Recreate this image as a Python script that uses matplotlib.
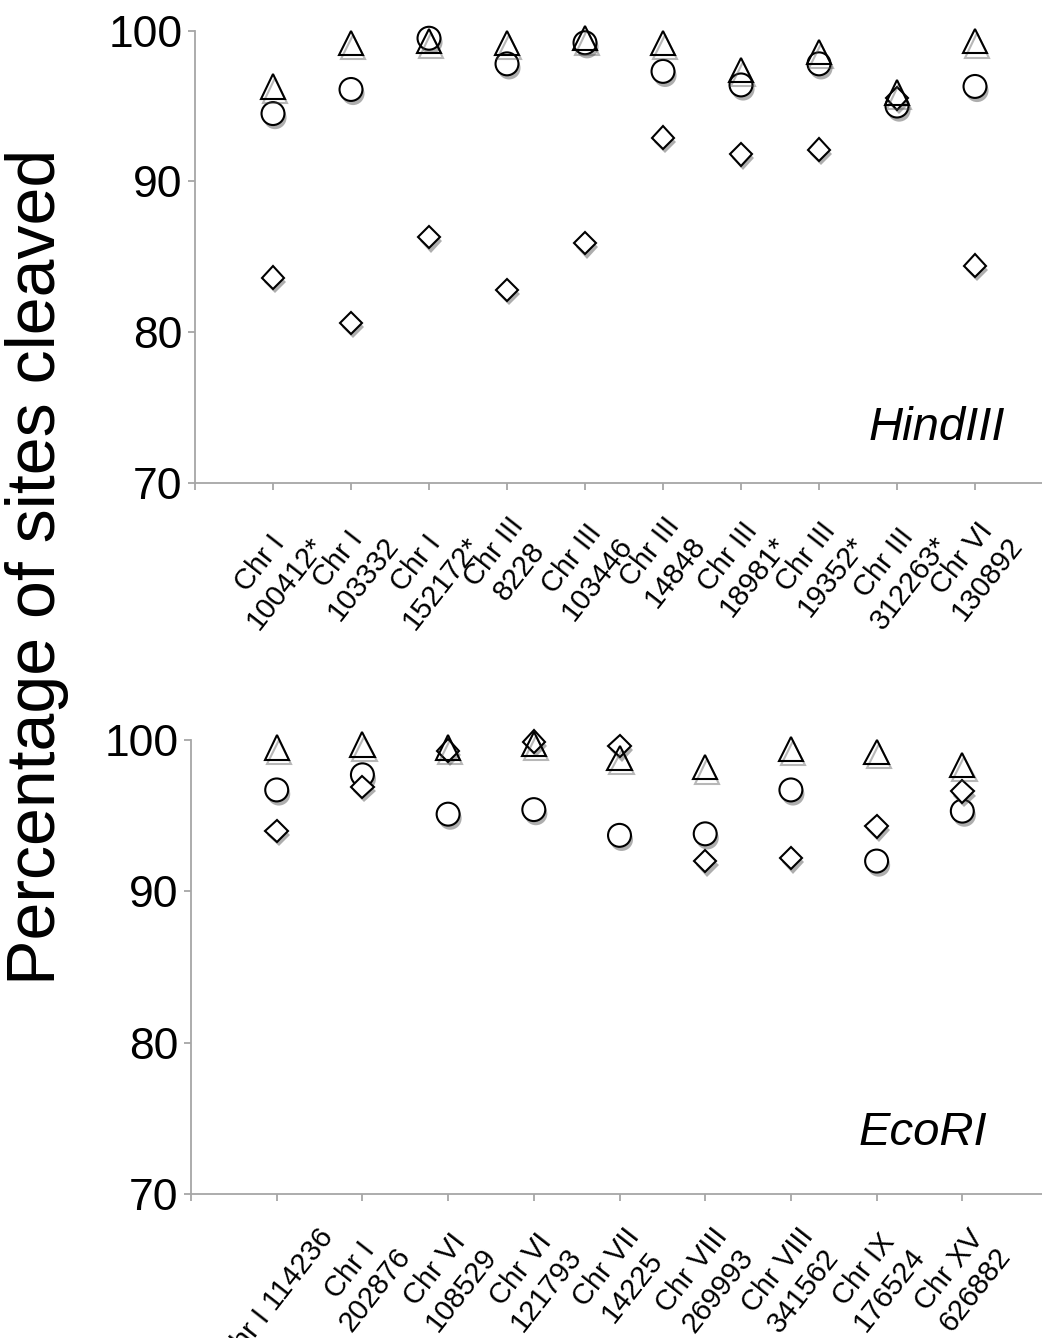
import matplotlib
matplotlib.use('Agg')
import matplotlib.pyplot as plt
import matplotlib.patheffects as pe

plt.rcParams['font.family'] = ['Liberation Sans', 'DejaVu Sans']

# HindIII sites (top panel)
hind_labels = ['Chr I\n100412*', 'Chr I\n103332', 'Chr I\n152172*', 'Chr III\n8228',
               'Chr III\n103446', 'Chr III\n14848', 'Chr III\n18981*', 'Chr III\n19352*',
               'Chr III\n312263*', 'Chr VI\n130892']
hind_triangle = [96.3, 99.2, 99.3, 99.2, 99.5, 99.2, 97.4, 98.6, 95.9, 99.3]
hind_circle = [94.5, 96.1, 99.5, 97.8, 99.2, 97.3, 96.4, 97.8, 95.0, 96.3]
hind_diamond = [83.6, 80.6, 86.3, 82.8, 85.9, 92.9, 91.8, 92.1, 95.5, 84.4]

# EcoRI sites (bottom panel)
eco_labels = ['Chr I 114236', 'Chr I\n202876', 'Chr VI\n108529', 'Chr VI\n121793',
              'Chr VII\n14225', 'Chr VIII\n269993', 'Chr VIII\n341562', 'Chr IX\n176524',
              'Chr XV\n626882']
eco_triangle = [99.5, 99.7, 99.5, 99.75, 98.8, 98.2, 99.4, 99.2, 98.35]
eco_circle = [96.7, 97.7, 95.1, 95.4, 93.7, 93.8, 96.7, 92.0, 95.3]
eco_diamond = [94.0, 96.9, 99.3, 99.9, 99.6, 92.0, 92.2, 94.3, 96.6]

W, H = 1042, 1338
axis_color = '#a6a6a6'

# soft drop shadow under the markers
shadow_fill = [pe.SimplePatchShadow(offset=(1.5, -3), shadow_rgbFace='0.3', alpha=0.45),
               pe.Normal()]
shadow_line = [pe.SimpleLineShadow(offset=(1.5, -3), shadow_color='0.3', alpha=0.4),
               pe.Normal()]


def panel(ax, labels, tri, circ, dia, name, xmax, name_pos):
    x = list(range(1, len(labels) + 1))
    common = dict(linestyle='none', markeredgecolor='black', markeredgewidth=1.5,
                  clip_on=False)
    ax.plot(x, circ, marker='o', markersize=16.5, markerfacecolor='white',
            path_effects=shadow_fill, zorder=3, **common)
    ax.plot(x, dia, marker='D', markersize=11.5, markerfacecolor='white',
            path_effects=shadow_fill, zorder=4, **common)
    ax.plot(x, tri, marker='^', markersize=17.5, markerfacecolor='none',
            path_effects=shadow_line, zorder=5, **common)

    ax.set_xlim(0, xmax)
    ax.set_ylim(70, 100)
    ax.set_yticks([70, 80, 90, 100])
    ax.set_xticks(range(0, len(labels) + 1))
    ax.set_xticklabels([''] + labels, rotation=52, ha='center', va='top',
                       multialignment='center', fontsize=21)
    for s in ['top', 'right']:
        ax.spines[s].set_visible(False)
    for s in ['left', 'bottom']:
        ax.spines[s].set_color(axis_color)
        ax.spines[s].set_linewidth(1.3)
    ax.tick_params(axis='both', direction='out', length=5, width=1.3, color=axis_color)
    ax.tick_params(axis='y', labelsize=32, pad=4)
    ax.tick_params(axis='x', pad=16)
    ax.text(name_pos[0], name_pos[1], name, transform=ax.transAxes, fontsize=34,
            style='italic', ha='right', va='baseline')


fig = plt.figure(figsize=(W / 100, H / 100), dpi=100)
ax1 = fig.add_axes([195 / W, 1 - 482.7 / H, 858 / W, 452 / H])
ax2 = fig.add_axes([191 / W, 1 - 1194 / H, 857 / W, 454 / H])

panel(ax1, hind_labels, hind_triangle, hind_circle, hind_diamond, 'HindIII', 11, (0.944, 0.095))
panel(ax2, eco_labels, eco_triangle, eco_circle, eco_diamond, 'EcoRI', 10, (0.929, 0.108))

fig.text(37 / W, 1 - 567 / H, 'Percentage of sites cleaved', rotation=90,
         fontsize=49, ha='center', va='center')

fig.savefig('out.png', dpi=100)
